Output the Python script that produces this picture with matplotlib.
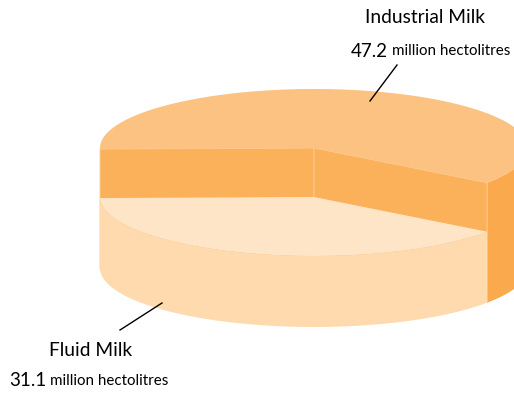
import numpy as np
import matplotlib.pyplot as plt
from matplotlib.patches import Polygon

labels = ['Industrial Milk', 'Fluid Milk']
values = [47.2, 31.1]
units = 'million hectolitres'

# drawing setup (pixels)
W, H = 514, 394
CX, RX, RY = 314, 214, 59
BASE_Y = 268
heights = [120, 71]
top_cols = ['#FCC282', '#FEE5C8']
cut_col = '#FBB05A'
wall_cols = ['#FAA94C', '#FEDAAE']
edge_col = '#FDCB92'
fluid_start = 181.0

plt.rcParams['font.family'] = ['Lato', 'DejaVu Sans']

fig = plt.figure(figsize=(W / 100, H / 100), dpi=100)
ax = fig.add_axes([0, 0, 1, 1])
ax.set_xlim(0, W)
ax.set_ylim(H, 0)
ax.axis('off')

total = sum(values)
sweeps = [v / total * 360 for v in values]
# fluid goes from fluid_start counter-clockwise, industrial takes the rest
f0, f1 = fluid_start, fluid_start + sweeps[1]
i0, i1 = f1 - 360, fluid_start


def rim(theta, level):
    t = np.radians(theta)
    return CX + RX * np.cos(t), level - RY * np.sin(t)


def arc(a0, a1, level, n=120):
    t = np.linspace(a0, a1, n)
    x, y = rim(t, level)
    return np.column_stack([x, y])


def wall(a0, a1, top, bot, color):
    pts = np.vstack([arc(a0, a1, top), arc(a1, a0, bot)])
    ax.add_patch(Polygon(pts, closed=True, fc=color, ec='none'))


def cut(theta, top, bot):
    xr, ytr = rim(theta, top)
    _, ybr = rim(theta, bot)
    pts = [(CX, top), (xr, ytr), (xr, ybr), (CX, bot)]
    ax.add_patch(Polygon(pts, closed=True, fc=cut_col, ec=edge_col, lw=0.7))


def top_face(a0, a1, level, color):
    pts = np.vstack([[(CX, level)], arc(a0, a1, level)])
    ax.add_patch(Polygon(pts, closed=True, fc=color, ec='none'))


# industrial slice (tall, behind)
ind_top = BASE_Y - heights[0]
wall(i0, 0, ind_top, BASE_Y, wall_cols[0])
wall(180, i1, ind_top, BASE_Y, wall_cols[0])
cut(i1, ind_top, BASE_Y)
cut(i0, ind_top, BASE_Y)
top_face(i0, i1, ind_top, top_cols[0])

# fluid slice (short, front)
fl_top = BASE_Y - heights[1]
wall(f0, f1, fl_top, BASE_Y, wall_cols[1])
top_face(f0, f1, fl_top, top_cols[1])

# labels
ax.text(425, 17, labels[0], fontsize=13.8, ha='center', va='center')
ax.text(388, 51, f'{values[0]}', fontsize=13.5, ha='right', va='center')
ax.text(392, 51, units, fontsize=10.9, ha='left', va='center')
ax.plot([397, 370], [65, 101], color='black', lw=1)

ax.text(91, 351, labels[1], fontsize=13.8, ha='center', va='center')
ax.text(46, 381, f'{values[1]}', fontsize=13.5, ha='right', va='center')
ax.text(50, 381, units, fontsize=10.9, ha='left', va='center')
ax.plot([162, 120], [303, 330], color='black', lw=1)

fig.savefig('out.png', dpi=100)
